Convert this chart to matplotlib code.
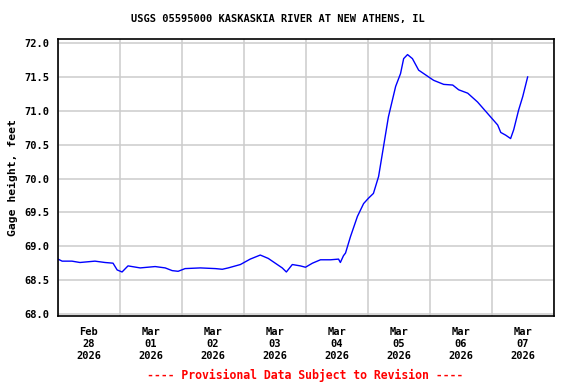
import numpy as np
import pandas as pd
import matplotlib
matplotlib.use('Agg')
import matplotlib.pyplot as plt
import matplotlib.dates as mdates

# hours since 2026-02-28 00:00 and gage height (ft)
hours = [0, 1.6, 5.4, 8.5, 14.3, 18.2, 21.3, 22.9, 24.8, 27.1, 31.8, 37.6,
         41.5, 44.2, 46.5, 49.2, 55.1, 60.9, 63.6, 65.9, 70.6, 74.4, 78.3,
         81.4, 84.1, 86.8, 88.4, 90.7, 93.8, 95.8, 98.5, 101.6, 105.5, 108.6,
         109.3, 110.5, 111.3, 113.2, 115.9, 118.3, 120.2, 122.1, 124.1, 126.0,
         127.9, 130.7, 132.6, 133.8, 135.3, 137.2, 139.6, 142.3, 145.4, 149.3,
         152.8, 155.1, 158.6, 162.4, 166.3, 170.2, 171.4, 173.3, 175.2, 176.4,
         178.3, 179.9, 181.8]
gage = [68.81, 68.78, 68.78, 68.76, 68.78, 68.76, 68.75, 68.65, 68.62, 68.71,
        68.68, 68.70, 68.68, 68.64, 68.63, 68.67, 68.68, 68.67, 68.66, 68.68,
        68.73, 68.81, 68.87, 68.82, 68.75, 68.68, 68.62, 68.73, 68.71, 68.69,
        68.75, 68.80, 68.80, 68.81, 68.76, 68.86, 68.90, 69.14, 69.44, 69.63,
        69.71, 69.78, 70.03, 70.47, 70.91, 71.36, 71.55, 71.77, 71.83, 71.77,
        71.60, 71.53, 71.45, 71.39, 71.38, 71.31, 71.26, 71.13, 70.96, 70.79,
        70.68, 70.64, 70.59, 70.72, 71.01, 71.21, 71.50]
yticks = [68.0, 68.5, 69.0, 69.5, 70.0, 70.5, 71.0, 71.5, 72.0]

start = pd.Timestamp('2026-02-28')
times = start + pd.to_timedelta(hours, unit='h')

mono = 'DejaVu Sans Mono'
fig = plt.figure(figsize=(5.76, 3.84), dpi=100)
ax = fig.add_axes([58 / 576, 1 - 316 / 384, 496 / 576, 277 / 384])

ax.plot(times, gage, color='#0000ff', lw=1.0)

ax.set_xlim(start, start + pd.Timedelta(days=8))
ax.set_ylim(67.97, 72.06)
ax.set_yticks(yticks)
ax.set_yticklabels([f'{v:.1f}' for v in yticks], family=mono,
                   fontweight='bold', fontsize=7.5)

ax.xaxis.set_major_locator(mdates.DayLocator())
ax.xaxis.set_major_formatter(plt.NullFormatter())
ax.xaxis.set_minor_locator(mdates.HourLocator(byhour=12))
ax.xaxis.set_minor_formatter(mdates.DateFormatter('%b\n%d\n%Y'))
for lab in ax.xaxis.get_minorticklabels():
    lab.set_family(mono)
    lab.set_fontweight('bold')
    lab.set_fontsize(7.5)
    lab.set_linespacing(1.25)
ax.tick_params(axis='both', which='both', length=0, pad=6)
ax.tick_params(axis='x', which='minor', pad=8)

ax.grid(True, which='major', color='#cccccc', lw=1.1)
ax.set_axisbelow(True)
for s in ax.spines.values():
    s.set_linewidth(1.2)

ax.set_ylabel('Gage height, feet', family=mono, fontweight='bold',
              fontsize=8.2, labelpad=5)

fig.text(278 / 576, 1 - 19 / 384, 'USGS 05595000 KASKASKIA RIVER AT NEW ATHENS, IL',
         ha='center', va='center', family=mono, fontweight='bold', fontsize=7.5)
fig.text(305 / 576, 1 - 375 / 384, '---- Provisional Data Subject to Revision ----',
         ha='center', va='center', family=mono, fontweight='bold', fontsize=8.3,
         color='red')

fig.savefig('out.png', dpi=100)
